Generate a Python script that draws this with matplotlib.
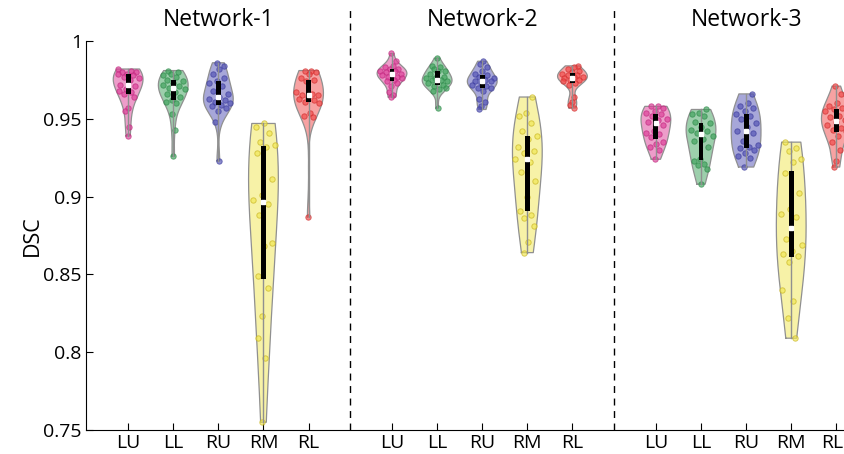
import matplotlib
matplotlib.use("Agg")
import matplotlib.pyplot as plt
import matplotlib.transforms as mtransforms
import numpy as np

plt.rcParams['font.family'] = ['Open Sans', 'DejaVu Sans']

networks = ['Network-1', 'Network-2', 'Network-3']
regions = ['LU', 'LL', 'RU', 'RM', 'RL']

# DSC values, one list per region and network
net1_LU = [0.982, 0.981, 0.980, 0.980, 0.979, 0.979, 0.978, 0.977, 0.976, 0.975, 0.972,
           0.971, 0.969, 0.968, 0.967, 0.966, 0.964, 0.957, 0.955, 0.945, 0.939]
net1_LL = [0.981, 0.980, 0.979, 0.978, 0.977, 0.975, 0.974, 0.973, 0.972, 0.971, 0.970,
           0.969, 0.967, 0.966, 0.964, 0.962, 0.961, 0.960, 0.953, 0.943, 0.926]
net1_RU = [0.986, 0.984, 0.982, 0.979, 0.976, 0.974, 0.973, 0.971, 0.968, 0.966, 0.964,
           0.963, 0.962, 0.961, 0.960, 0.959, 0.958, 0.957, 0.955, 0.948, 0.923]
net1_RM = [0.947, 0.945, 0.941, 0.935, 0.933, 0.932, 0.928, 0.911, 0.901, 0.898,
           0.895, 0.888, 0.870, 0.868, 0.849, 0.841, 0.823, 0.809, 0.796, 0.755]
net1_RL = [0.981, 0.981, 0.980, 0.979, 0.976, 0.975, 0.974, 0.967, 0.966, 0.965,
           0.965, 0.964, 0.963, 0.962, 0.961, 0.960, 0.954, 0.952, 0.951, 0.887]

net2_LU = [0.992, 0.987, 0.984, 0.983, 0.982, 0.982, 0.981, 0.981, 0.980, 0.979, 0.979,
           0.978, 0.977, 0.977, 0.976, 0.975, 0.974, 0.973, 0.971, 0.967, 0.965, 0.964]
net2_LL = [0.989, 0.984, 0.983, 0.982, 0.981, 0.981, 0.979, 0.977, 0.976, 0.976, 0.975,
           0.975, 0.974, 0.974, 0.973, 0.972, 0.971, 0.970, 0.969, 0.968, 0.957]
net2_RU = [0.987, 0.985, 0.983, 0.981, 0.979, 0.978, 0.977, 0.976, 0.975, 0.974, 0.974,
           0.973, 0.972, 0.971, 0.970, 0.970, 0.968, 0.963, 0.961, 0.958, 0.956]
net2_RM = [0.964, 0.954, 0.952, 0.947, 0.942, 0.939, 0.937, 0.932, 0.929, 0.928, 0.924,
           0.922, 0.916, 0.910, 0.900, 0.891, 0.888, 0.886, 0.881, 0.871, 0.864]
net2_RL = [0.984, 0.983, 0.982, 0.981, 0.980, 0.979, 0.978, 0.978, 0.977, 0.977,
           0.976, 0.975, 0.975, 0.974, 0.973, 0.972, 0.964, 0.961, 0.959, 0.957]

net3_LU = [0.958, 0.958, 0.957, 0.955, 0.954, 0.953, 0.952, 0.950, 0.949, 0.948,
           0.946, 0.942, 0.941, 0.940, 0.938, 0.935, 0.934, 0.932, 0.930, 0.924]
net3_LL = [0.956, 0.954, 0.953, 0.952, 0.948, 0.947, 0.945, 0.943, 0.942, 0.941,
           0.939, 0.937, 0.936, 0.932, 0.924, 0.923, 0.921, 0.920, 0.918, 0.908]
net3_RU = [0.966, 0.960, 0.958, 0.957, 0.955, 0.953, 0.952, 0.950, 0.947, 0.945, 0.942,
           0.941, 0.936, 0.933, 0.932, 0.931, 0.930, 0.928, 0.926, 0.925, 0.919]
net3_RM = [0.935, 0.931, 0.929, 0.924, 0.922, 0.915, 0.902, 0.892, 0.889, 0.887,
           0.873, 0.869, 0.865, 0.863, 0.862, 0.858, 0.840, 0.833, 0.822, 0.809]
net3_RL = [0.971, 0.966, 0.960, 0.958, 0.957, 0.956, 0.955, 0.952, 0.951, 0.949,
           0.948, 0.946, 0.944, 0.943, 0.942, 0.939, 0.935, 0.930, 0.923, 0.919]

data = [[net1_LU, net1_LL, net1_RU, net1_RM, net1_RL],
        [net2_LU, net2_LL, net2_RU, net2_RM, net2_RL],
        [net3_LU, net3_LL, net3_RU, net3_RM, net3_RL]]

colors = ['#dc3c96', '#3ca05a', '#5050b4', '#f0e650', '#f04646']
dot_edges = ['#c0287e', '#2e8a4a', '#3c3c9c', '#c8b41e', '#d02c2c']

group_offset = 5.85
half_width = 0.33


def kde(vals, grid):
    # MATLAB ksdensity style bandwidth (robust sigma)
    n = len(vals)
    sig = np.median(np.abs(vals - np.median(vals))) / 0.6745
    bw = 1.15 * sig * (4.0 / (3.0 * n)) ** 0.2
    z = (grid[:, None] - vals[None, :]) / bw
    return np.exp(-0.5 * z ** 2).sum(axis=1) / (n * bw * np.sqrt(2 * np.pi))


fig = plt.figure(figsize=(8.44, 4.54), dpi=100)
ax = fig.add_axes([86 / 844, 24 / 454, (844 - 86) / 844, 389 / 454])

tick_pos = []
tick_lab = []
for g in range(3):
    for i in range(5):
        x0 = 1 + i + g * group_offset
        tick_pos.append(x0)
        tick_lab.append(regions[i])
        vals = np.array(data[g][i])
        grid = np.linspace(vals.min(), vals.max(), 200)
        dens = kde(vals, grid)
        scale = half_width / dens.max()
        w = dens * scale
        ax.fill_betweenx(grid, x0 - w, x0 + w, facecolor=colors[i], alpha=0.5,
                         edgecolor='none', zorder=1)
        ax.plot(np.r_[x0 - w, (x0 + w)[::-1], x0 - w[0]],
                np.r_[grid, grid[::-1], grid[0]], color='#909090', lw=0.9, zorder=2)

        # scattered points inside the violin (deterministic jitter)
        dv = kde(vals, vals) * scale
        jit = ((np.arange(len(vals)) * 0.618034 + 0.31 * g + 0.17 * i) % 1.0) * 2 - 1
        ax.scatter(x0 + jit * dv * 0.85, vals, s=15, facecolor=colors[i], alpha=0.65,
                   edgecolor=dot_edges[i], linewidth=0.7, zorder=3)

        q1, med, q3 = np.percentile(vals, [25, 50, 75])
        ax.plot([x0, x0], [vals.min(), vals.max()], color='#909090', lw=1.0, zorder=4)
        ax.add_patch(plt.Rectangle((x0 - 0.055, q1), 0.11, q3 - q1, facecolor='black',
                                   edgecolor='none', zorder=5))
        ax.plot(x0, med, 's', ms=3, mfc='white', mec='white', zorder=6)

    ax.text(3 + g * group_offset, 1.054, networks[g], fontsize=16.5, ha='center',
            va='center', transform=mtransforms.blended_transform_factory(ax.transData, ax.transAxes))

trans = mtransforms.blended_transform_factory(ax.transData, ax.transAxes)
gap_mid = (group_offset - 4) / 2
for sep in [5 + gap_mid, 5 + group_offset + gap_mid]:
    ax.plot([sep, sep], [0, 1.085], color='black', lw=1, ls=(0, (5, 4)),
            transform=trans, clip_on=False)

ax.set_xlim(0.066, 16.87)
ax.set_ylim(0.75, 1.0)
ax.set_xticks(tick_pos)
ax.set_xticklabels(tick_lab)
ax.set_yticks([0.75, 0.8, 0.85, 0.9, 0.95, 1.0])
ax.set_yticklabels(['0.75', '0.8', '0.85', '0.9', '0.95', '1'])
ax.tick_params(direction='in', length=5, width=0.8, labelsize=14, pad=3)
# keep the last label inside the figure
last = ax.get_xticklabels()[-1]
last.set_transform(last.get_transform() + mtransforms.ScaledTranslation(-4 / 100, 0, fig.dpi_scale_trans))
ax.set_ylabel('DSC', fontsize=15.5, labelpad=0)
for s in ['top', 'right']:
    ax.spines[s].set_visible(False)

fig.savefig('out.png', dpi=100)
